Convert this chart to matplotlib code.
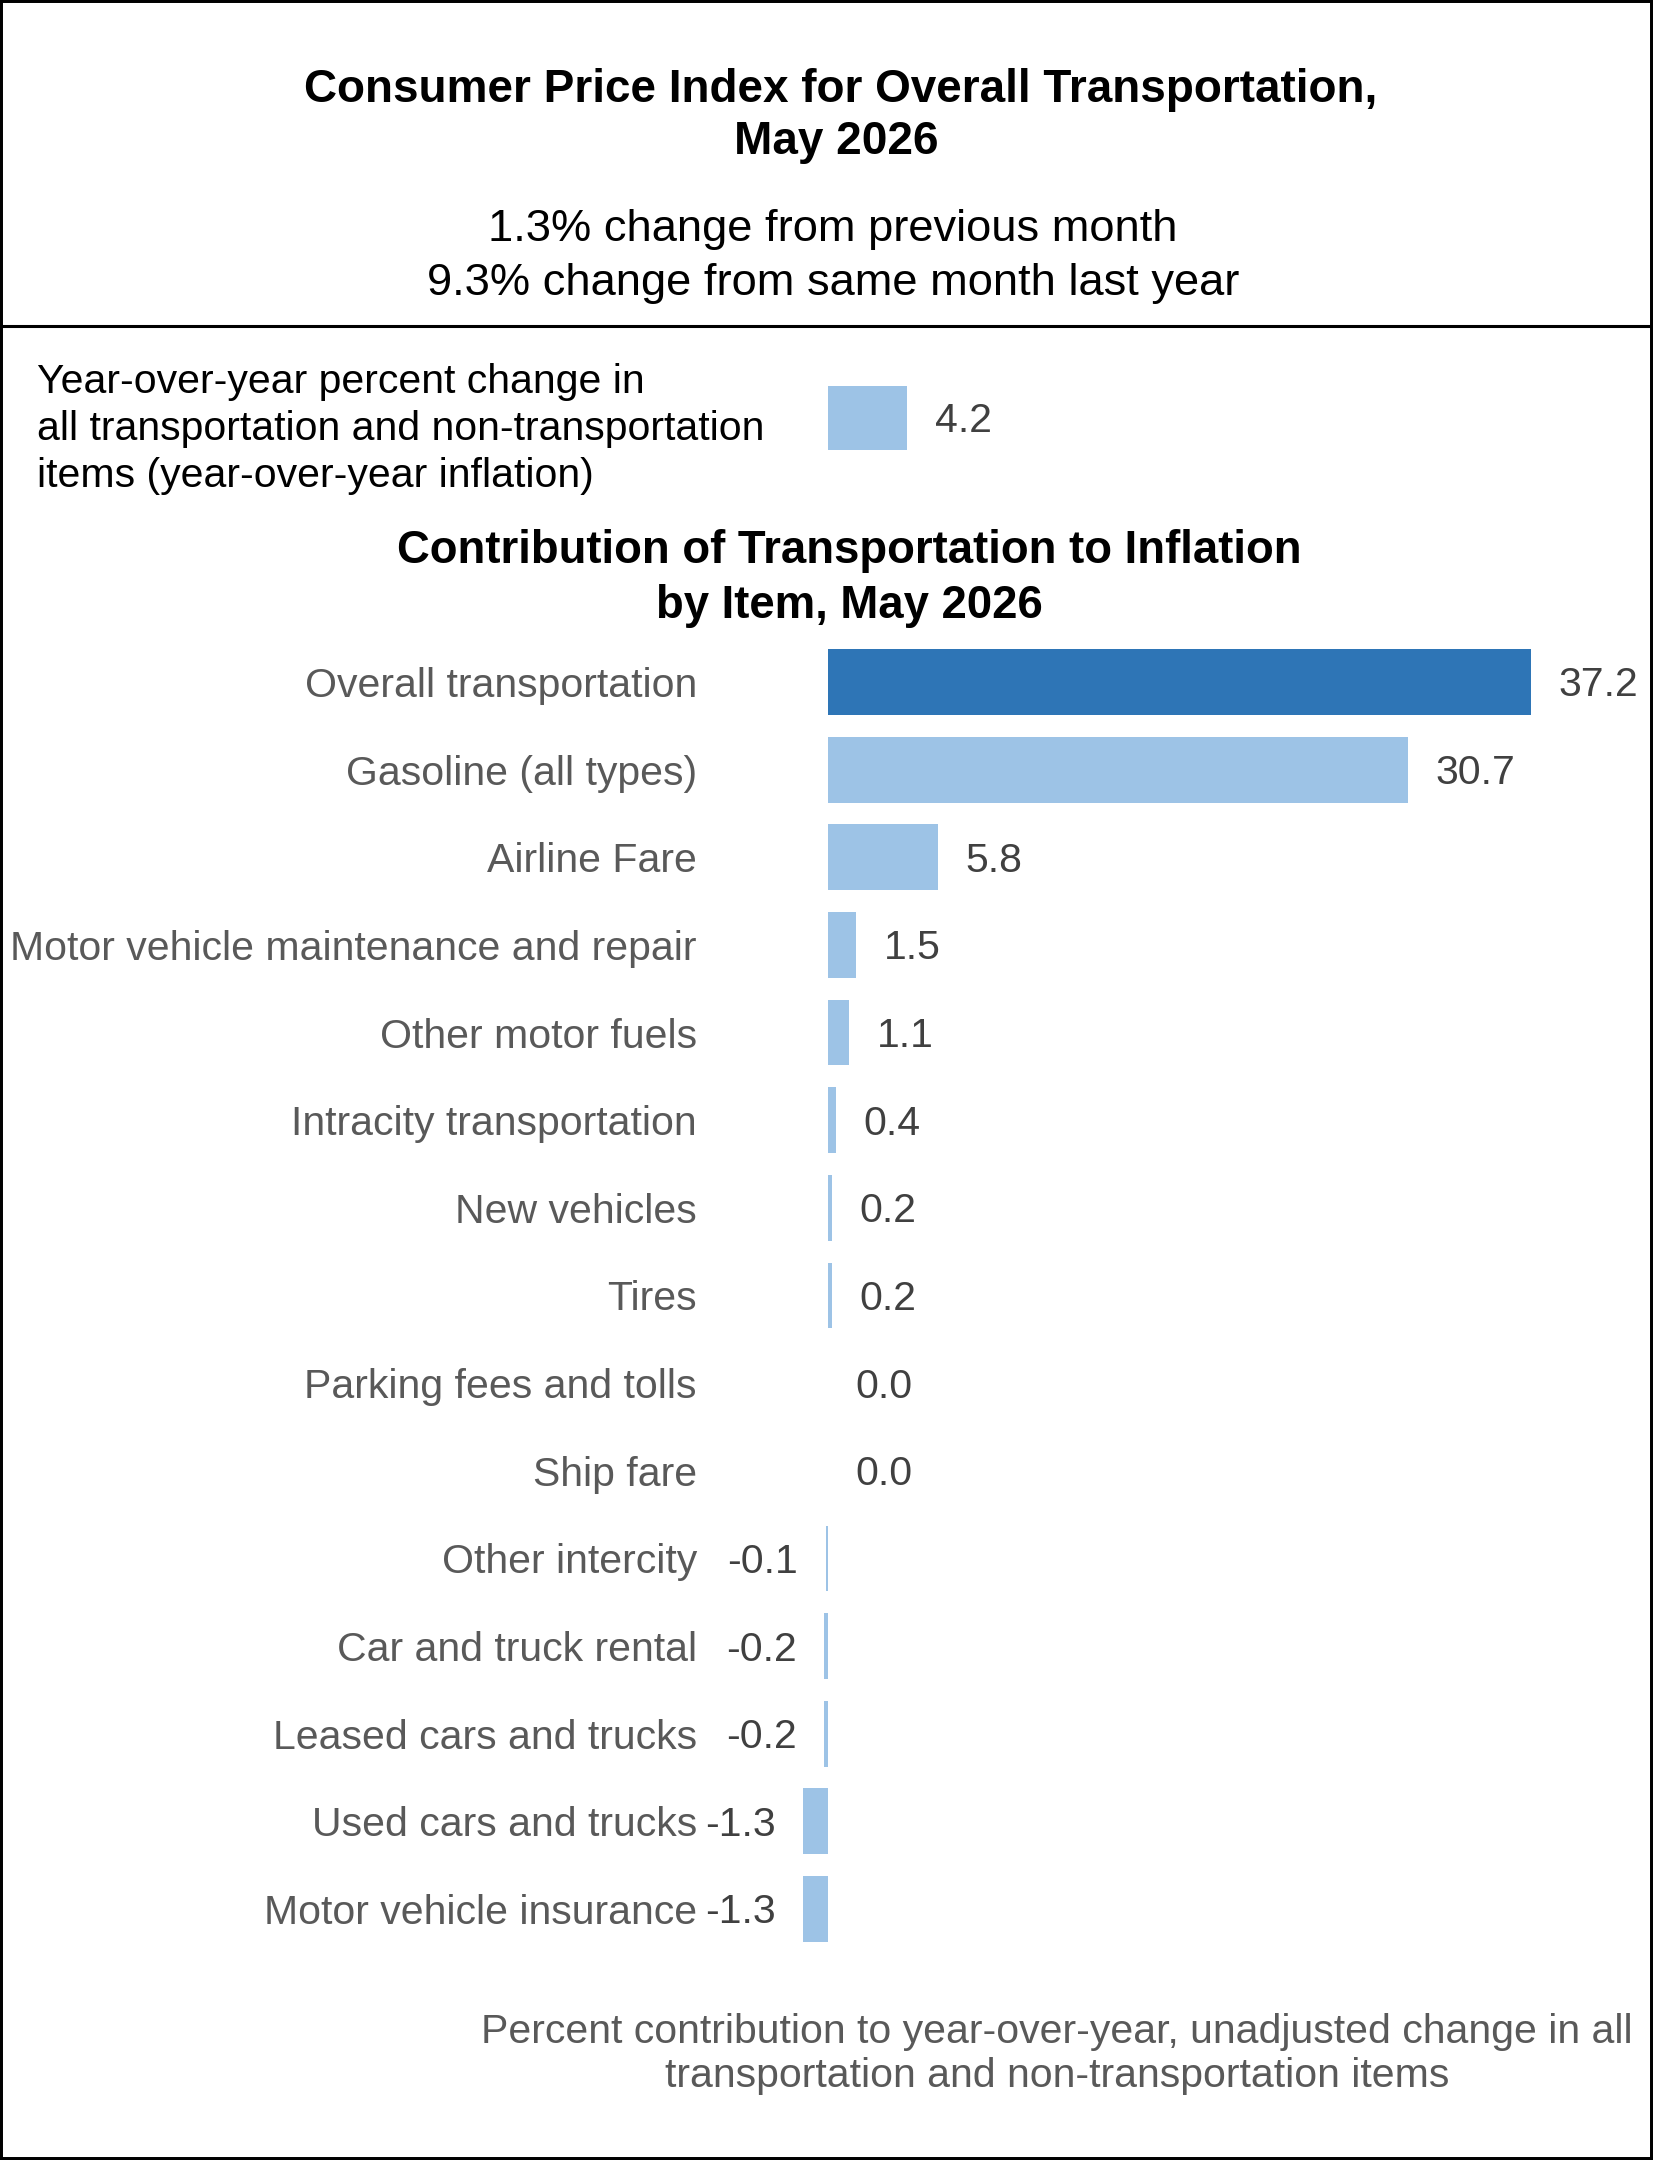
import matplotlib.pyplot as plt
from matplotlib.patches import Rectangle
from matplotlib.lines import Line2D

plt.rcParams['font.family'] = ['Liberation Sans', 'DejaVu Sans']

# data
items = ["Overall transportation", "Gasoline (all types)", "Airline Fare",
         "Motor vehicle maintenance and repair", "Other motor fuels",
         "Intracity transportation", "New vehicles", "Tires",
         "Parking fees and tolls", "Ship fare", "Other intercity",
         "Car and truck rental", "Leased cars and trucks",
         "Used cars and trucks", "Motor vehicle insurance"]
contrib = [37.2, 30.7, 5.8, 1.5, 1.1, 0.4, 0.2, 0.2, 0.0, 0.0,
           -0.1, -0.2, -0.2, -1.3, -1.3]
overall_yoy = [4.2]
overall_label = ["Year-over-year percent change in\nall transportation and non-transportation\nitems (year-over-year inflation)"]

title = "Consumer Price Index for Overall Transportation,\nMay 2026"
subtitle = ["1.3% change from previous month", "9.3% change from same month last year"]
chart_title = ["Contribution of Transportation to Inflation", "by Item, May 2026"]
footer = ["Percent contribution to year-over-year, unadjusted change in all",
          "transportation and non-transportation items"]

dark = "#2E75B6"
light = "#9DC3E6"
W, H = 1653, 2160

fig = plt.figure(figsize=(W / 100, H / 100), dpi=100)


def fx(px):
    return px / W


def fy(py):
    return 1 - py / H


# pixel layout of the bar area
zero_px = 828
ppu = (1531 - 828) / 37.2
L, R = 710, 1640
xmin = (L - zero_px) / ppu
xmax = (R - zero_px) / ppu

# header
fig.text(fx(841), fy(90), title.split("\n")[0], ha="center", va="center",
         fontsize=33, fontweight="bold")
fig.text(fx(836), fy(142), title.split("\n")[1], ha="center", va="center",
         fontsize=33, fontweight="bold")
fig.text(fx(833), fy(230), subtitle[0], ha="center", va="center", fontsize=32.6)
fig.text(fx(833), fy(284), subtitle[1], ha="center", va="center", fontsize=32.6)

# left block text
for i, line in enumerate(overall_label[0].split("\n")):
    fig.text(fx(37), fy(382 + 47 * i), line, ha="left", va="center",
             fontsize=29.5, color="black")

# top bar (all items inflation)
ax0 = fig.add_axes([fx(L), fy(462), fx(R) - fx(L), (462 - 374) / H])
ax0.barh([0], overall_yoy, height=0.73, color=light)
ax0.set_xlim(xmin, xmax)
ax0.set_ylim(0.5, -0.5)
ax0.axis("off")
ax0.annotate(f"{overall_yoy[0]:.1f}", (overall_yoy[0], 0), xytext=(20, -2.5),
             textcoords="offset points", ha="left", va="center",
             fontsize=29.5, color="#404040")

# section title
fig.text(fx(849), fy(551), chart_title[0], ha="center", va="center",
         fontsize=32.8, fontweight="bold")
fig.text(fx(849), fy(606), chart_title[1], ha="center", va="center",
         fontsize=32.8, fontweight="bold")

# main bars
spacing = (1909 - 682) / 14
top_px = 682 - spacing / 2
bot_px = 1909 + spacing / 2
ax = fig.add_axes([fx(L), fy(bot_px), fx(R) - fx(L), (bot_px - top_px) / H])
ypos = list(range(len(items)))
colors = [dark] + [light] * (len(items) - 1)
ax.barh(ypos, contrib, height=0.75, color=colors)
ax.set_xlim(xmin, xmax)
ax.set_ylim(len(items) - 0.5, -0.5)
ax.set_yticks(ypos)
ax.set_yticklabels(items, fontsize=29.5, color="#595959")
ax.tick_params(axis="y", length=0, pad=9.4)
ax.set_xticks([])
for s in ax.spines.values():
    s.set_visible(False)

for y, v in zip(ypos, contrib):
    off = 20 if v >= 0 else -20
    ax.annotate(f"{v:.1f}", (v, y), xytext=(off, -2.5), textcoords="offset points",
                ha="left" if v >= 0 else "right", va="center",
                fontsize=29.5, color="#404040")

# footer
fig.text(fx(1057), fy(2032), footer[0], ha="center", va="center",
         fontsize=29.5, color="#595959")
fig.text(fx(1057), fy(2076), footer[1], ha="center", va="center",
         fontsize=29.5, color="#595959")

# borders
fig.patches.append(Rectangle((0, 0), 1, 1, transform=fig.transFigure,
                             fill=False, edgecolor="black", linewidth=4.3))
fig.lines.append(Line2D([0, 1], [fy(326), fy(326)], transform=fig.transFigure,
                        color="black", linewidth=2.2))

fig.savefig("out.png", dpi=100, facecolor="white")
